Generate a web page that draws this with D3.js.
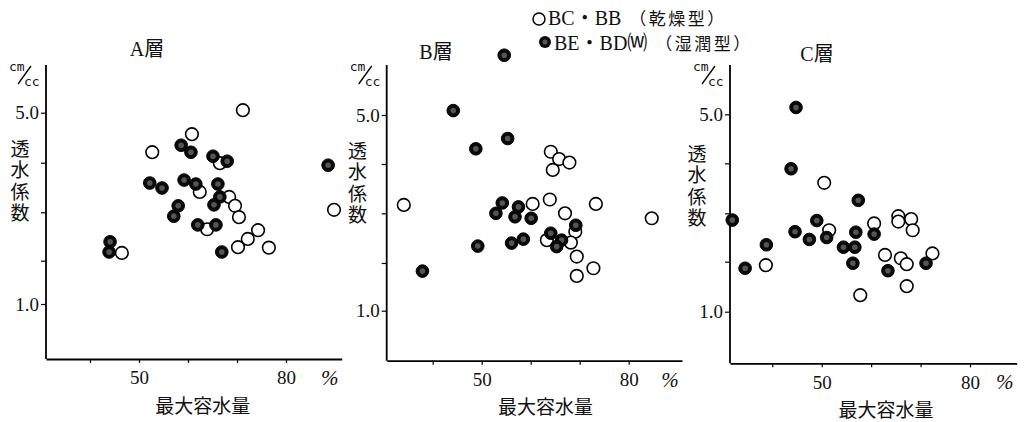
<!DOCTYPE html>
<html>
<head>
<meta charset="utf-8">
<script src="https://cdn.jsdelivr.net/npm/d3@7"></script>
<style>
  html, body { margin: 0; padding: 0; background: #fff; }
  svg { display: block; }
  text { fill: #111; }
  .serif { font-family: "Liberation Serif", "DejaVu Serif", "Noto Sans CJK JP", serif; }
  .cjk { font-family: "Noto Sans CJK JP", sans-serif; }
  .mono { font-family: "DejaVu Sans Mono", "Liberation Mono", monospace; }
</style>
</head>
<body>
<svg id="chart" width="1024" height="422"></svg>
<script>
// 最大容水量 (%) と 透水係数 (cm/cc) の関係 — 層別
const layers = ["A層", "B層", "C層"];
const seriesLatin = ["BC・BB", "BE・BD⒲"];
const seriesKind = ["（乾燥型）", "（湿潤型）"];
const xTicks = [40, 50, 60, 70, 80];
const xTickLabels = { 50: "50", 80: "80" };
const yTicks = [1, 2, 3, 4, 5];
const yTickLabels = { 1: "1.0", 5: "5.0" };
const xUnit = "%";
const xTitle = "最大容水量";
const yTitle = "透水係数";

// [最大容水量 %, 透水係数]
const dryA = [[71.2,5.05],[60.8,4.57],[52.7,4.21],[66.5,3.99],[62.4,3.41],[68.4,3.31],[69.6,3.13],[70.4,2.90],[63.9,2.65],[74.3,2.63],[72.2,2.45],[70.2,2.28],[76.5,2.27],[46.5,2.16],[89.8,3.05]];
const wetA = [[58.6,4.35],[60.6,4.21],[65.1,4.13],[68.0,4.03],[88.6,3.95],[52.2,3.59],[54.7,3.49],[59.2,3.65],[61.6,3.57],[66.1,3.57],[66.5,3.31],[65.3,3.15],[58.0,3.13],[57.1,2.92],[62.0,2.74],[65.7,2.74],[66.9,2.18],[44.1,2.39],[43.9,2.18]];

const dryB = [[64.1,4.25],[65.8,4.10],[67.9,4.03],[64.5,3.88],[34.1,3.17],[60.4,3.19],[63.9,3.28],[73.3,3.19],[67.0,3.00],[84.7,2.90],[69.1,2.63],[63.3,2.46],[68.2,2.41],[69.4,2.13],[72.8,1.89],[69.4,1.73]];
const wetB = [[54.6,6.22],[44.2,5.09],[55.3,4.52],[48.8,4.31],[54.2,3.21],[57.5,3.13],[52.9,3.00],[56.8,2.93],[60.1,2.90],[69.2,2.76],[64.1,2.60],[66.3,2.46],[65.3,2.33],[56.1,2.40],[58.5,2.48],[49.2,2.34],[37.9,1.83]];

const dryC = [[50.5,3.61],[38.7,1.93],[51.5,2.65],[57.8,1.33],[60.6,2.79],[65.5,2.94],[65.5,2.83],[68.1,2.88],[68.4,2.65],[62.8,2.14],[66.0,2.07],[67.2,1.95],[67.2,1.51],[72.4,2.17]];
const wetC = [[44.8,5.14],[43.8,3.89],[57.4,3.26],[31.9,2.86],[44.6,2.62],[49.0,2.85],[47.5,2.46],[51.0,2.50],[38.8,2.35],[34.5,1.87],[56.9,2.61],[54.4,2.30],[56.7,2.30],[56.3,1.97],[60.6,2.57],[63.4,1.82],[71.1,1.97]];

const dryData = [dryA, dryB, dryC];
const wetData = [wetA, wetB, wetC];

// panel geometry (pixels)
const frames = [
  { ax: 46,    top: 65, bottom: 359,   xEnd: 341.7, x40: 90,    x80: 286,
    yPos: [304, 260.7, 212.3, 162.7, 112.7], title: [147, 49], yLab: [20, 139] },
  { ax: 386.7, top: 65, bottom: 360.7, xEnd: 682,   x40: 432.7, x80: 628.7,
    yPos: [310.7, 263, 213.3, 164, 115],     title: [436, 52], yLab: [357.5, 141] },
  { ax: 730,   top: 65, bottom: 363.3, xEnd: 1016.7, x40: 772.3, x80: 970,
    yPos: [311.7, 261.7, 213.3, 163.3, 114.3], title: [817, 53.5], yLab: [697, 144] }
];

const R = 6.3;
const svg = d3.select("#chart");

function drawDry(sel, x, y, data) {
  sel.selectAll("circle.dry").data(data).join("circle")
    .attr("class", "dry")
    .attr("cx", d => x(d[0])).attr("cy", d => y(d[1])).attr("r", R)
    .attr("fill", "#fff").attr("stroke", "#000").attr("stroke-width", 1.6);
}
function drawWet(sel, x, y, data) {
  const g = sel.selectAll("g.wet").data(data).join("g").attr("class", "wet")
    .attr("transform", d => `translate(${x(d[0])},${y(d[1])})`);
  g.append("circle").attr("r", R).attr("fill", "#0a0a0a").attr("stroke", "#000").attr("stroke-width", 1);
  g.append("circle").attr("r", 2.8).attr("fill", "#555");
}

frames.forEach((f, i) => {
  const g = svg.append("g");

  const x = d3.scaleLinear().domain([40, 80]).range([f.x40, f.x80]);
  x.domain([x.invert(f.ax), x.invert(f.xEnd)]).range([f.ax, f.xEnd]);
  const y = d3.scaleLinear().domain(yTicks).range(f.yPos);

  // vertical axis line
  g.append("line")
    .attr("x1", f.ax).attr("x2", f.ax).attr("y1", f.top).attr("y2", f.bottom)
    .attr("stroke", "#000").attr("stroke-width", 1.8);

  const yAxis = g.append("g").attr("transform", `translate(${f.ax},0)`)
    .call(d3.axisLeft(y).tickValues(yTicks).tickSize(5).tickSizeOuter(0).tickPadding(2)
      .tickFormat(d => yTickLabels[d] || ""));
  yAxis.select(".domain").remove();
  yAxis.selectAll("line").attr("stroke", "#000").attr("stroke-width", 1.2);
  yAxis.selectAll("text").attr("class", "serif").attr("font-size", 19).attr("fill", "#111");
  yAxis.attr("font-family", null);

  const xAxis = g.append("g").attr("transform", `translate(0,${f.bottom})`)
    .call(d3.axisBottom(x).tickValues(xTicks).tickSize(4).tickSizeOuter(0).tickPadding(8)
      .tickFormat(d => xTickLabels[d] || ""));
  xAxis.select(".domain").attr("stroke", "#000").attr("stroke-width", 1.8);
  xAxis.selectAll("line").attr("stroke", "#000").attr("stroke-width", 1.2);
  xAxis.selectAll("text").attr("class", "serif").attr("font-size", 19).attr("fill", "#111");
  xAxis.attr("font-family", null);

  // unit marks
  g.append("text").attr("class", "serif").attr("x", f.xEnd - 12).attr("y", f.bottom + 26)
    .attr("text-anchor", "middle").attr("font-style", "italic")
    .attr("font-size", 21).text(xUnit);
  g.append("text").attr("class", "cjk").attr("x", x(63)).attr("y", f.bottom + 45)
    .attr("text-anchor", "middle").attr("dominant-baseline", "central")
    .attr("font-size", 19).text(xTitle);

  // cm/cc
  g.append("text").attr("class", "mono").attr("x", f.ax - 37).attr("y", 71)
    .attr("font-size", 13).text("cm");
  g.append("line").attr("x1", f.ax - 28).attr("y1", 84).attr("x2", f.ax - 15).attr("y2", 66)
    .attr("stroke", "#000").attr("stroke-width", 1.3);
  g.append("text").attr("class", "mono").attr("x", f.ax - 22).attr("y", 86)
    .attr("font-size", 13).text("cc");

  // stacked vertical title
  g.append("text").attr("class", "cjk")
    .attr("x", f.yLab[0]).attr("y", f.yLab[1])
    .attr("writing-mode", "vertical-rl")
    .style("writing-mode", "vertical-rl")
    .attr("letter-spacing", 2.5)
    .attr("font-size", 19).text(yTitle);

  // layer title
  g.append("text").attr("class", "serif").attr("x", f.title[0]).attr("y", f.title[1])
    .attr("text-anchor", "middle").attr("dominant-baseline", "central")
    .attr("font-size", 20).text(layers[i]);

  drawDry(g, x, y, dryData[i]);
  drawWet(g, x, y, wetData[i]);
});

// legend
const lg = svg.append("g");
lg.append("circle").attr("cx", 539).attr("cy", 19).attr("r", 6)
  .attr("fill", "#fff").attr("stroke", "#000").attr("stroke-width", 1.5);
const t1 = lg.append("text").attr("class", "serif").attr("x", 548).attr("y", 25).attr("font-size", 20);
t1.append("tspan").text(seriesLatin[0]);
t1.append("tspan").attr("class", "cjk").attr("dx", 8).attr("font-size", 17)
  .attr("letter-spacing", 2.5).text(seriesKind[0]);
const wl = lg.append("g").attr("transform", "translate(545,42)");
wl.append("circle").attr("r", 6).attr("fill", "#0a0a0a");
wl.append("circle").attr("r", 2.6).attr("fill", "#555");
const t2 = lg.append("text").attr("class", "serif").attr("x", 554).attr("y", 50).attr("font-size", 20);
t2.append("tspan").text(seriesLatin[1]);
t2.append("tspan").attr("class", "cjk").attr("dx", 8).attr("font-size", 17)
  .attr("letter-spacing", 2.5).text(seriesKind[1]);
</script>
</body>
</html>
